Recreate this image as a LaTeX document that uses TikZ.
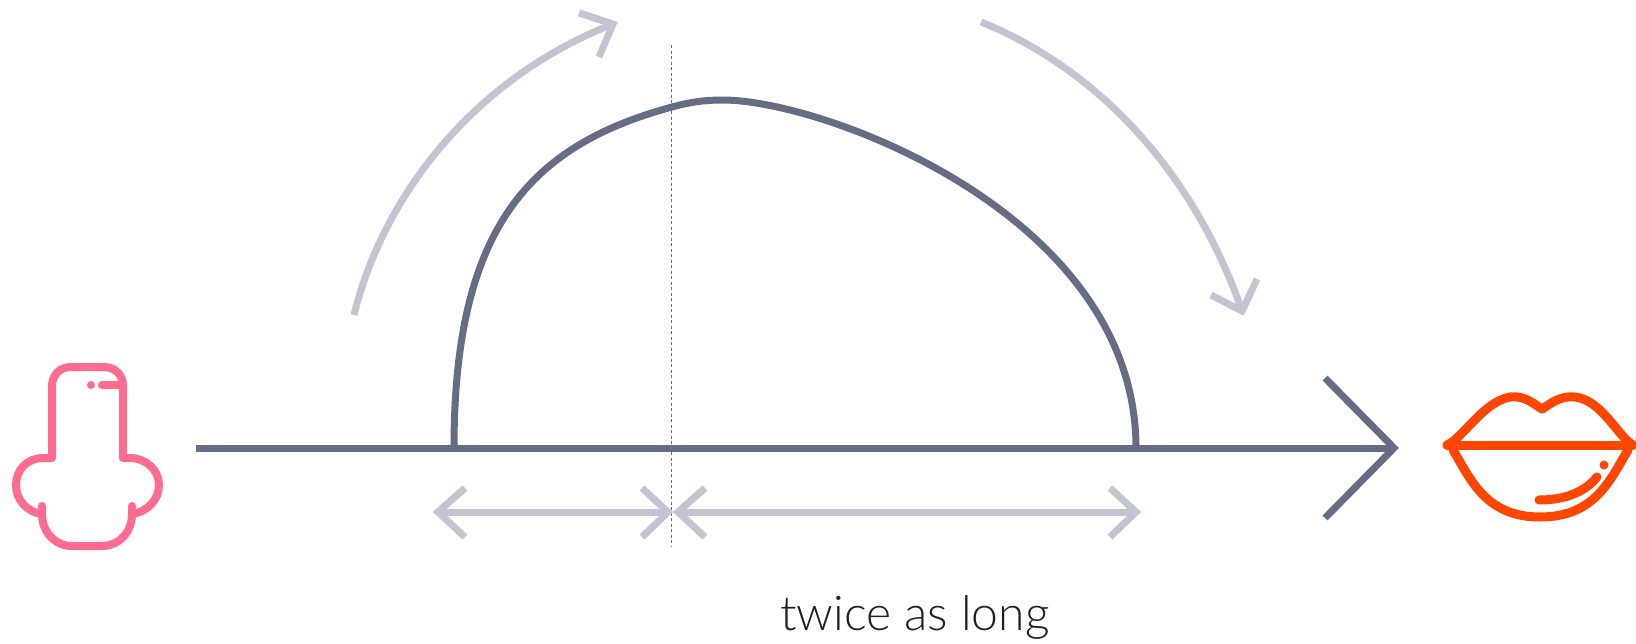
\documentclass[tikz,border=0pt]{standalone}
\usepackage{fontspec}
\setmainfont{Lato Light}
\definecolor{slate}{HTML}{656C83}
\definecolor{pale}{HTML}{C2C5D1}
\definecolor{nosepink}{HTML}{FF6C8F}
\definecolor{lipred}{HTML}{FF4600}
\tikzset{
  axisline/.style={draw=slate,line width=7pt},
  paleline/.style={draw=pale,line width=7pt},
  noseline/.style={draw=nosepink,line width=8pt,line cap=round,line join=round},
  lipline/.style={draw=lipred,line width=9pt,line cap=round,line join=round},
  guide/.style={draw=slate,line width=1.6pt,dash pattern=on 3pt off 2.5pt},
}
\begin{document}
\begin{tikzpicture}[x=1pt,y=-1pt]
\useasboundingbox (0,0) rectangle (1636,643);
% axis
\coordinate (axisstart) at (196,448);
\coordinate (axistip) at (1394,448);
\coordinate (headtop) at (1325,378);
\coordinate (headbot) at (1325,518);
\draw[axisline] (axisstart) -- (axistip);
\draw[axisline,miter limit=10] (headtop) -- (axistip) -- (headbot);
% curve
\coordinate (curvea) at (454,448);
\coordinate (curvepeak) at (723,100);
\coordinate (curveb) at (1136,448);
\draw[axisline] (curvea) .. controls (454,225) and (532,145) .. (672,107)
  .. controls (690,102) and (705,100) .. (curvepeak)
  .. controls (823,100) and (1136,215) .. (curveb);
% guide
\coordinate (guidetop) at (671.5,45);
\coordinate (guidebot) at (671.5,547);
\draw[guide] (guidetop) -- (guidebot);
% double arrows
\coordinate (la) at (438,512);
\coordinate (lb) at (668,512);
\coordinate (ra) at (678,512);
\coordinate (rb) at (1136,512);
\draw[paleline] (la) -- (lb);
\draw[paleline] (ra) -- (rb);
\draw[paleline] (465,488) -- (la) -- (465,537);
\draw[paleline] (642,488) -- (lb) -- (642,537);
\draw[paleline] (705,488) -- (ra) -- (705,537);
\draw[paleline] (1110,488) -- (rb) -- (1110,537);
% pale arcs
\coordinate (arca) at (354,315);
\coordinate (arcb) at (613,24);
\coordinate (arcc) at (981,22);
\coordinate (arcd) at (1242,311);
\draw[paleline] (arca) .. controls (382,200) and (470,80) .. (arcb);
\draw[paleline] (579,13) -- (arcb) -- (599,57);
\draw[paleline] (arcc) .. controls (1100,70) and (1195,175) .. (arcd);
\draw[paleline] (1211,295) -- (arcd) -- (1257,279);
% nose
\draw[noseline] (43,458) -- (52,458) -- (52,386) .. controls (52,375) and (60,367) .. (71,367) -- (104,367)
  .. controls (115,367) and (123,375) .. (123,386) -- (123,458) -- (130,458);
\draw[noseline] (43,458) .. controls (27,458) and (16,470) .. (16,485) .. controls (16,500) and (27,512) .. (42,514);
\draw[noseline] (130,458) .. controls (146,458) and (159,470) .. (159,485) .. controls (159,500) and (147,512) .. (132,514);
\draw[noseline] (42,506) -- (42,514) .. controls (42,532) and (55,546) .. (72,546) -- (102,546) .. controls (119,546) and (132,532) .. (132,514) -- (132,506);
\draw[noseline] (102,385) -- (120,385);
\fill[nosepink] (91,385) circle (4);
% lips
\draw[lipline] (1447,445) -- (1633,445);
\draw[lipline] (1447,445) .. controls (1463,438) and (1483,402) .. (1510,397)
  .. controls (1525,395) and (1535,405) .. (1542,409) .. controls (1549,405) and (1560,395) .. (1575,397)
  .. controls (1602,400) and (1618,437) .. (1633,445);
\draw[lipline] (1453,450) .. controls (1470,478) and (1485,517) .. (1540,517)
  .. controls (1595,517) and (1610,480) .. (1628,450);
\draw[lipline] (1539,500) .. controls (1565,500) and (1585,492) .. (1597,477);
\fill[lipred] (1604,465) circle (4.5);
% label
\node[font=\fontsize{48}{56}\selectfont,text=black!88,anchor=base,inner sep=0pt] (caption) at (915,630) {twice as long};
\end{tikzpicture}
\end{document}
